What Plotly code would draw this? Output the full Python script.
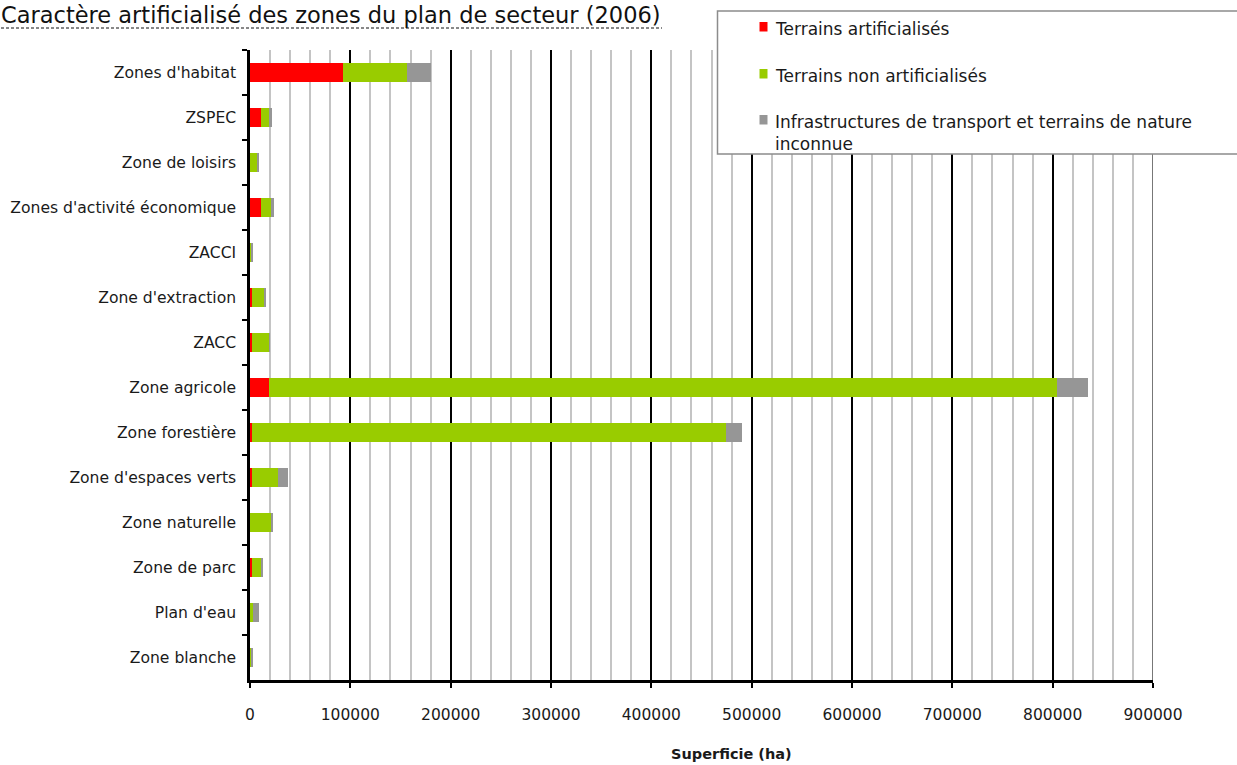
import plotly.graph_objects as go

# Zones du plan de secteur, de haut en bas
categories = [
    "Zones d'habitat", "ZSPEC", "Zone de loisirs", "Zones d'activité économique",
    "ZACCI", "Zone d'extraction", "ZACC", "Zone agricole", "Zone forestière",
    "Zone d'espaces verts", "Zone naturelle", "Zone de parc", "Plan d'eau",
    "Zone blanche",
]

# Superficie (ha) par type de terrain
artificialises = [92700, 11000, 400, 11000, 300, 1800, 1500, 19000, 2000, 1800, 300, 1500, 300, 200]
non_artificialises = [63300, 8300, 6900, 10000, 400, 12200, 17800, 785000, 472500, 25800, 21300, 10000, 2200, 400]
infrastructures = [24000, 3000, 1700, 3000, 2000, 1700, 500, 31500, 16300, 10000, 1400, 1100, 6500, 2000]

series_names = [
    "Terrains artificialisés",
    "Terrains non artificialisés",
    "Infrastructures de transport et terrains de nature<br>inconnue",
]
series_colors = ["#ff0000", "#99cc00", "#969696"]
series_values = [artificialises, non_artificialises, infrastructures]

x_ticks = [0, 100000, 200000, 300000, 400000, 500000, 600000, 700000, 800000, 900000]

W, H = 1237, 765
ML, MR, MT, MB = 250, 84, 50, 85
PW, PH = W - ML - MR, H - MT - MB


def px(x):
    return (x - ML) / PW


def py(y):
    return 1 - (y - MT) / PH


FONT = "DejaVu Sans"
TEXT = "#1a1a1a"

fig = go.Figure()
for name, color, vals in zip(series_names, series_colors, series_values):
    fig.add_trace(go.Bar(
        y=categories, x=vals, orientation="h", name=name,
        marker=dict(color=color, line=dict(width=0)),
        showlegend=False,
    ))

fig.update_layout(
    width=W, height=H,
    margin=dict(l=ML, r=MR, t=MT, b=MB, autoexpand=False),
    barmode="stack", bargap=0.59,
    plot_bgcolor="white", paper_bgcolor="white",
    font=dict(family=FONT, size=15, color=TEXT),
    xaxis=dict(
        range=[0, 900000], tickvals=x_ticks, ticktext=[str(v) for v in x_ticks],
        showgrid=True, gridcolor="#000000", gridwidth=1.5,
        minor=dict(dtick=20000, tick0=0, showgrid=True, gridcolor="#c4c4c4", gridwidth=2, ticks=""),
        showline=True, linecolor="#000000", linewidth=2.5,
        ticks="outside", ticklen=5, tickwidth=2, tickcolor="#000000",
        ticklabelstandoff=14, zeroline=False,
        tickfont=dict(size=15.5, family=FONT, color=TEXT),
    ),
    yaxis=dict(
        categoryorder="array", categoryarray=categories, autorange="reversed",
        showgrid=False, showline=True, linecolor="#000000", linewidth=2.5,
        ticks="outside", ticklen=5, tickwidth=2, tickcolor="#000000",
        tickson="boundaries", ticklabelstandoff=8,
        tickfont=dict(size=15.6, family=FONT, color=TEXT),
    ),
)

shapes = []
annotations = []

# Bord droit de la zone de tracé
shapes.append(dict(type="line", xref="x", yref="paper", x0=900000, x1=900000, y0=0, y1=1,
                   line=dict(color="#777777", width=2), layer="above"))

# Titre souligné en pointillés
annotations.append(dict(
    text="Caractère artificialisé des zones du plan de secteur (2006)",
    xref="paper", yref="paper", x=px(-1), y=py(15), xanchor="left", yanchor="middle",
    showarrow=False, font=dict(size=22.5, family=FONT, color="#111111"),
))
shapes.append(dict(type="line", xref="paper", yref="paper", x0=px(1), x1=px(662),
                   y0=py(28), y1=py(28), line=dict(color="#111111", width=1, dash="3px,2px")))

# Légende
shapes.append(dict(type="rect", xref="paper", yref="paper",
                   x0=px(717.5), x1=px(1245), y0=py(11), y1=py(154),
                   fillcolor="white", line=dict(color="#8c8c8c", width=1.5), layer="above"))
legend_y = [27, 74, 120]
for name, color, yc in zip(series_names, series_colors, legend_y):
    shapes.append(dict(type="rect", xref="paper", yref="paper",
                       x0=px(759.5), x1=px(767.5), y0=py(yc - 5), y1=py(yc + 4.5),
                       fillcolor=color, line=dict(width=0), layer="above"))
    annotations.append(dict(
        text=name, xref="paper", yref="paper", x=px(773), y=py(yc - 10),
        xanchor="left", yanchor="top", align="left", showarrow=False,
        font=dict(size=17, family=FONT, color=TEXT),
    ))

# Titre de l'axe des abscisses
annotations.append(dict(
    text="<b>Superficie (ha)</b>", xref="paper", yref="paper", x=px(731.5), y=py(754),
    xanchor="center", yanchor="middle", showarrow=False,
    font=dict(size=14.5, family=FONT, color=TEXT),
))

fig.update_layout(shapes=shapes, annotations=annotations)
fig.write_html("out.html")
